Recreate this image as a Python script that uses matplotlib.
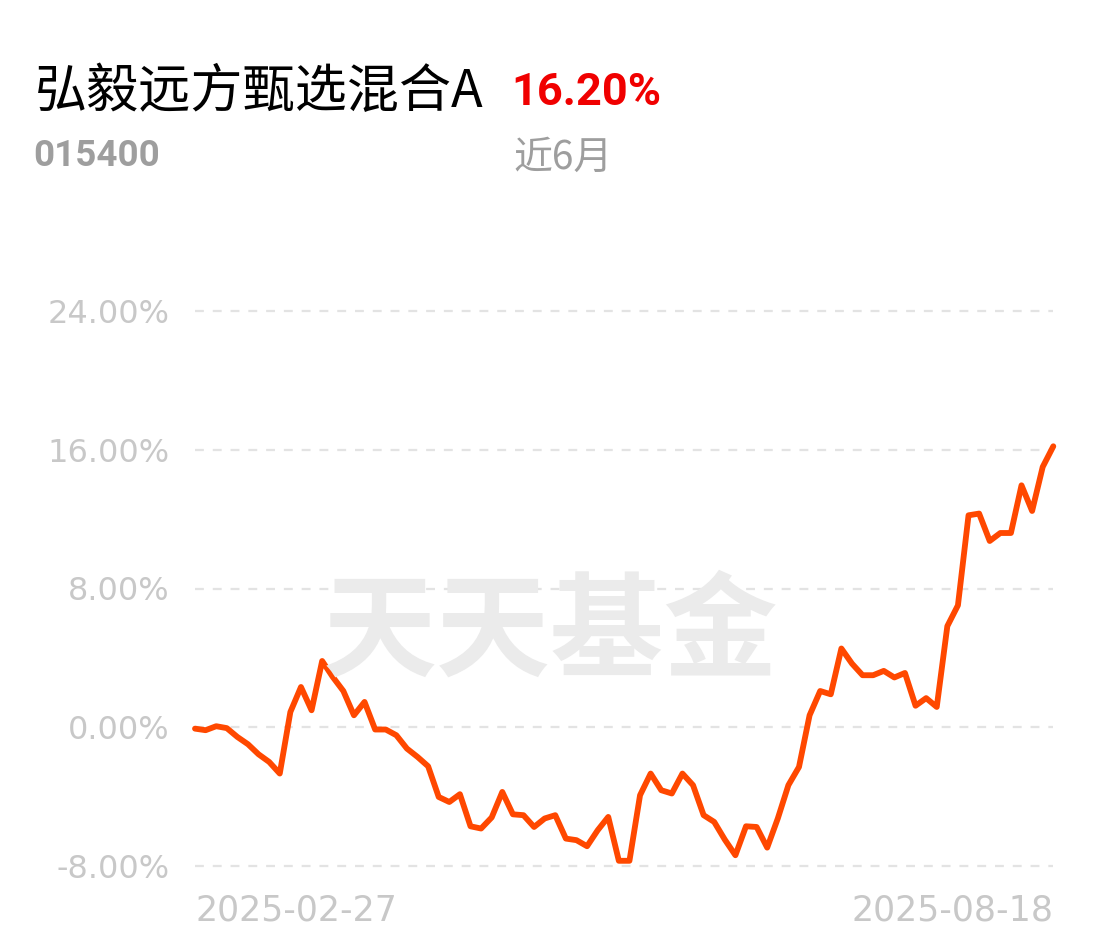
import numpy as np
import matplotlib
matplotlib.use("Agg")
import matplotlib.pyplot as plt

plt.rcParams['font.family'] = ['Noto Sans CJK SC', 'DejaVu Sans']

fund_name = "弘毅远方甄选混合A"
fund_code = "015400"
period_return = "16.20%"
period_label = "近6月"
start_label = "2025-02-27"
end_label = "2025-08-18"

# cumulative return (%)
returns = [-0.08, -0.17, 0.06, -0.05, -0.56, -0.98, -1.56, -2.0, -2.67, 0.88,
           2.32, 0.98, 3.82, 2.9, 2.09, 0.69, 1.46, -0.13, -0.13, -0.46,
           -1.23, -1.71, -2.25, -4.02, -4.31, -3.86, -5.71, -5.84, -5.2, -3.73,
           -5.02, -5.07, -5.75, -5.26, -5.07, -6.42, -6.51, -6.86, -5.94, -5.17,
           -7.7, -7.7, -3.92, -2.67, -3.63, -3.82, -2.67, -3.34, -5.07, -5.46,
           -6.48, -7.38, -5.71, -5.75, -6.94, -5.26, -3.34, -2.29, 0.69, 2.09,
           1.9, 4.54, 3.67, 3.0, 3.0, 3.25, 2.87, 3.13, 1.24, 1.68,
           1.17, 5.83, 7.03, 12.22, 12.32, 10.74, 11.2, 11.2, 13.95, 12.47,
           15.01, 16.20]
y_ticks = [-8, 0, 8, 16, 24]

N = len(returns)
x = np.arange(N)

fig = plt.figure(figsize=(11.02, 9.51), dpi=100)
ax = fig.add_axes([195/1102, 1-866/951, (1053.3-195)/1102, (866-311)/951])

ax.plot(x, returns, color="#ff4800", linewidth=4.2, solid_joinstyle="round",
        solid_capstyle="round", clip_on=False, zorder=3)

ax.set_xlim(0, N-1)
ax.set_ylim(-8, 24)
ax.set_yticks(y_ticks)
ax.set_yticklabels([f"{v:.2f}%" for v in y_ticks], fontsize=23, color="#c8c8c8",
                   family="DejaVu Sans")
ax.tick_params(axis="y", length=0, pad=18)
ax.set_xticks([])
for s in ax.spines.values():
    s.set_visible(False)
for v in y_ticks:
    ax.axhline(v, color="#e3e3e3", linewidth=1.6, dashes=(4, 4), zorder=1, clip_on=False)

# x labels at both ends
ax.text(0, -0.05, start_label, transform=ax.transAxes, ha="left", va="top",
        fontsize=25, color="#c8c8c8", family="DejaVu Sans")
ax.text(1, -0.05, end_label, transform=ax.transAxes, ha="right", va="top",
        fontsize=25, color="#c8c8c8", family="DejaVu Sans")

# watermark
fig.text(550/1102, 1-634/951, "天天基金", ha="center", va="center", fontsize=82,
         color="#ebebeb", fontweight="heavy", zorder=0)

# header
fig.text(35/1102, 1-92/951, fund_name, ha="left", va="center", fontsize=37.5, color="black")
fig.text(511/1102, 1-93/951, period_return, ha="left", va="center", fontsize=32.5,
         color="#f00000", fontweight="bold", family=["Roboto", "DejaVu Sans"])
fig.text(33/1102, 1-156/951, fund_code, ha="left", va="center", fontsize=26.5,
         color="#9e9e9e", fontweight="bold", family=["Roboto", "DejaVu Sans"])
fig.text(513/1102, 1-158/951, period_label, ha="left", va="center", fontsize=28,
         color="#9e9e9e")

fig.savefig("out.png", dpi=100, facecolor="white")
